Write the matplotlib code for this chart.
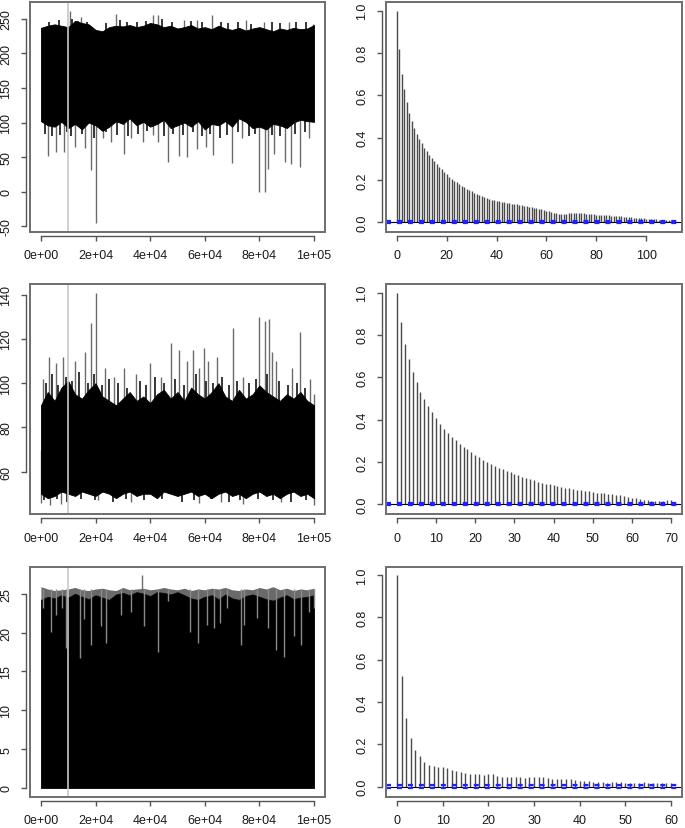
import numpy as np
import matplotlib
matplotlib.use("Agg")
import matplotlib.pyplot as plt
from matplotlib.patches import Rectangle

plt.rcParams["font.family"] = ["Liberation Sans", "DejaVu Sans"]
plt.rcParams["lines.scale_dashes"] = False

# === trace panels: core band (every 2500 iterations) + single excursions ===
n_iter = 100000
burn_in = 10000
core_step = 2500

t1_hi = [237, 240, 242, 240, 238, 247, 244, 242, 234, 232, 238, 240, 239, 241, 238, 240, 244,
         242, 238, 240, 236, 238, 241, 236, 238, 235, 240, 236, 234, 237, 233, 236, 238, 235,
         232, 236, 234, 237, 235, 236, 241]
t1_lo = [102, 96, 94, 101, 92, 98, 90, 100, 96, 88, 94, 102, 98, 106, 96, 101, 94, 98, 104,
         92, 96, 100, 94, 102, 90, 98, 96, 102, 94, 106, 101, 92, 94, 90, 98, 96, 92, 100,
         104, 102, 101]
# grey excursions beyond the band
t1_spike_it = [2700, 5400, 8500, 12400, 16000, 18500, 20300, 22700, 25800, 30400, 33100, 37300,
               41000, 43000, 46700, 50400, 53600, 57300, 60300, 63100, 70100, 73700, 79800,
               81900, 83100, 85500, 89200, 91600, 95000, 98100,
               10600, 14800, 27600, 41000, 42800, 52400, 57300, 62800, 74900, 81600, 90800, 99600]
t1_spike_val = [52, 58, 58, 65, 63, 31, -46, 77, 72, 55, 77, 72, 82, 72, 43, 52, 50, 62, 65, 53,
                41, 77, 0, 0, 33, 55, 43, 40, 36, 77,
                262, 252, 257, 256, 255, 248, 248, 255, 249, 246, 246, 243]
# dark strands at the band edges
t1_strand_it = [3000, 6500, 11500, 13500, 17000, 24000, 29000, 31500, 35000, 38500, 44500, 48000,
                55000, 59000, 66000, 68500, 72000, 77000, 84500, 87500, 93500, 97000,
                1500, 4000, 7000, 9500, 11000, 15000, 19500, 24000, 28000, 32000, 35500, 39000,
                45000, 48500, 52000, 55500, 59000, 62000, 65500, 68000, 72000, 76000, 78500,
                84500, 87500, 93000, 96500]
t1_strand_val = [246, 248, 250, 247, 246, 244, 248, 246, 245, 247, 250, 246, 247, 245, 246, 244,
                 246, 243, 245, 244, 246, 245,
                 84, 80, 82, 86, 80, 84, 78, 86, 82, 80, 84, 88, 80, 84, 82, 86, 80, 84, 78,
                 82, 86, 80, 84, 82, 80, 84, 86]

t2_hi = [90, 96, 92, 98, 101, 95, 93, 97, 100, 94, 92, 90, 93, 96, 92, 94, 91, 95, 97, 93, 96,
         92, 98, 95, 93, 96, 100, 94, 92, 97, 93, 95, 99, 96, 94, 92, 95, 93, 96, 92, 90]
t2_lo = [50, 48, 49, 51, 50, 49, 51, 50, 49, 51, 50, 48, 50, 51, 49, 50, 50, 48, 51, 50, 49,
         50, 51, 49, 50, 48, 50, 51, 49, 50, 48, 50, 51, 49, 50, 48, 50, 51, 49, 50, 48]
t2_spike_it = [850, 2900, 5400, 8100, 12400, 16000, 18500, 20300, 23400, 26800, 30400, 34900,
               39800, 43800, 47700, 50400, 53400, 55800, 57900, 59700, 61200, 64600, 70400,
               74100, 79800, 81900, 83500, 84700, 85900, 92000, 95000, 98400, 100000,
               0, 3500, 7400, 21000, 33000, 58000, 66000, 74000, 88000, 99800]
t2_spike_val = [102, 112, 109, 112, 110, 114, 127, 141, 107, 103, 107, 104, 109, 103, 118, 115,
                110, 115, 107, 116, 110, 112, 125, 103, 130, 128, 129, 114, 110, 107, 123, 102, 95,
                46, 45, 45.5, 47, 46.5, 46, 46.5, 45.5, 46.5, 44.7]
t2_strand_it = [1800, 4200, 6300, 9200, 11300, 14100, 17200, 19400, 22300, 25100, 28200, 31600,
                36200, 38400, 41700, 45200, 49100, 52200, 56700, 60300, 62900, 66400, 68700,
                71900, 76300, 78600, 82700, 87300, 90400, 93600, 96700,
                1200, 5800, 9700, 14600, 19800, 26300, 31200, 37600, 44300, 51700, 56200,
                62400, 68900, 72800, 79300, 85100, 91400, 97200]
t2_strand_val = [100, 104, 99, 103, 101, 105, 100, 104, 99, 102, 100, 98, 101, 99, 103, 100, 102,
                 99, 104, 101, 100, 103, 99, 101, 100, 102, 104, 101, 99, 100, 98,
                 47, 47.5, 46.5, 47.5, 47, 46.5, 47.5, 47, 47.5, 46.5, 47, 47.5, 46.5, 47, 47.5,
                 47, 46.5, 47]

t3_lo = 0.0
t3_hi = [24.2, 24.6, 24.4, 24.8, 24.5, 25.0, 24.6, 24.3, 24.8, 24.5, 24.2, 24.9, 25.1, 24.8,
         25.2, 25.0, 24.7, 25.2, 25.1, 24.9, 25.2, 24.8, 24.4, 24.2, 24.6, 24.8, 24.3, 24.9,
         24.4, 24.2, 24.7, 24.9, 24.6, 24.3, 24.1, 24.5, 24.8, 24.3, 24.5, 24.6, 24.8]
t3_top = [25.9, 25.6, 25.4, 25.5, 25.6, 25.8, 25.5, 25.4, 25.6, 25.7, 25.5, 25.4, 25.8, 25.5,
          25.6, 25.7, 25.5, 25.6, 25.8, 25.6, 25.5, 25.7, 25.4, 25.6, 25.5, 25.7, 25.6, 25.8,
          25.5, 25.4, 25.6, 25.5, 25.8, 25.6, 25.9, 25.5, 25.7, 25.4, 25.6, 25.5, 25.7]
# grey gaps reaching down into the band from the top
t3_gap_it = [850, 3650, 5360, 7550, 9000, 14200, 15600, 18500, 22100, 24000, 29200, 33100,
             37700, 42800, 46500, 54600, 57500, 60900, 63400, 65600, 68200, 73100, 74300,
             79200, 83100, 85900, 88900, 92600, 95300, 98100, 99900]
t3_gap_val = [23.1, 20.1, 22.3, 23.1, 18.0, 16.7, 21.8, 18.4, 20.8, 18.6, 22.3, 22.7, 20.8,
              17.5, 24.0, 20.1, 18.6, 21.0, 20.6, 21.2, 23.1, 18.4, 21.0, 21.9, 20.6, 17.8,
              16.9, 19.5, 18.4, 22.7, 23.1]
t3_spike_it = [37000]
t3_spike_val = [27.4]

# === autocorrelations ===
acf1 = [1.000, 0.818, 0.702, 0.628, 0.566, 0.518, 0.478, 0.446, 0.418, 0.395, 0.372, 0.352,
        0.334, 0.317, 0.302, 0.288, 0.274, 0.261, 0.249, 0.238, 0.226, 0.215, 0.205, 0.196,
        0.188, 0.180, 0.173, 0.166, 0.159, 0.152, 0.146, 0.140, 0.134, 0.128, 0.123, 0.118,
        0.114, 0.110, 0.106, 0.103, 0.100, 0.098, 0.096, 0.094, 0.092, 0.090, 0.088, 0.086,
        0.084, 0.082, 0.080, 0.078, 0.076, 0.074, 0.072, 0.069, 0.066, 0.063, 0.060, 0.057,
        0.054, 0.051, 0.048, 0.045, 0.042, 0.040, 0.039, 0.038, 0.039, 0.041, 0.042, 0.043,
        0.044, 0.043, 0.042, 0.041, 0.040, 0.039, 0.038, 0.037, 0.036, 0.035, 0.034, 0.034,
        0.033, 0.032, 0.031, 0.030, 0.029, 0.028, 0.027, 0.026, 0.025, 0.024, 0.023, 0.022,
        0.021, 0.020, 0.019, 0.018, 0.017, 0.016, 0.015, 0.014, 0.013, 0.012, 0.011, 0.010,
        0.009, 0.008, 0.007]
acf2 = [1.000, 0.860, 0.759, 0.685, 0.625, 0.575, 0.532, 0.496, 0.466, 0.436, 0.406, 0.381,
        0.357, 0.337, 0.318, 0.301, 0.286, 0.272, 0.259, 0.246, 0.233, 0.221, 0.211, 0.201,
        0.191, 0.182, 0.173, 0.165, 0.157, 0.150, 0.143, 0.136, 0.130, 0.124, 0.118, 0.112,
        0.107, 0.102, 0.097, 0.093, 0.089, 0.085, 0.082, 0.078, 0.075, 0.072, 0.069, 0.066,
        0.063, 0.060, 0.057, 0.055, 0.053, 0.051, 0.049, 0.047, 0.044, 0.041, 0.038, 0.034,
        0.030, 0.027, 0.024, 0.021, 0.018, 0.015, 0.013, 0.014, 0.016, 0.018, 0.020]
acf3 = [1.000, 0.521, 0.324, 0.229, 0.175, 0.144, 0.118, 0.103, 0.098, 0.095, 0.093, 0.088,
        0.080, 0.073, 0.068, 0.065, 0.060, 0.058, 0.058, 0.055, 0.060, 0.058, 0.052, 0.048,
        0.047, 0.046, 0.047, 0.044, 0.043, 0.044, 0.045, 0.046, 0.044, 0.041, 0.038, 0.037,
        0.036, 0.037, 0.036, 0.033, 0.028, 0.026, 0.025, 0.024, 0.022, 0.020, 0.019, 0.020,
        0.021, 0.020, 0.019, 0.018, 0.016, 0.018, 0.020, 0.019, 0.018, 0.017, 0.016, 0.015,
        0.015]
acf_ci = 1.96 / np.sqrt(n_iter)

trace_yticks = [[-50, 0, 50, 100, 150, 200, 250], [60, 80, 100, 120, 140], [0, 5, 10, 15, 20, 25]]
trace_xticks = [0, 20000, 40000, 60000, 80000, 100000]
acf_xticks = [[0, 20, 40, 60, 80, 100], [0, 10, 20, 30, 40, 50, 60, 70],
              [0, 10, 20, 30, 40, 50, 60]]
acf_yticks = [0.0, 0.2, 0.4, 0.6, 0.8, 1.0]

# === figure ===
W, H = 685, 829
fig = plt.figure(figsize=(W / 100, H / 100), dpi=100)
rows_top = [3, 285, 567.5]
panel_h = 230


def add_ax(left, right, top):
    return fig.add_axes([left / W, (H - top - panel_h) / H, (right - left) / W, panel_h / H])


def r_style(ax, xt, yt, xlabels, ylabels):
    for s in ["top", "right"]:
        ax.spines[s].set_visible(False)
    for s in ["left", "bottom"]:
        ax.spines[s].set_position(("outward", 3))
        ax.spines[s].set_color("#555555")
        ax.spines[s].set_linewidth(1.0)
    ax.spines["bottom"].set_bounds(xt[0], xt[-1])
    ax.spines["left"].set_bounds(yt[0], yt[-1])
    ax.set_xticks(xt)
    ax.set_xticklabels(xlabels)
    ax.set_yticks(yt)
    ax.set_yticklabels(ylabels)
    ax.tick_params(length=3.6, width=1.0, color="#555555", labelsize=9, pad=6,
                   labelcolor="#1a1a1a")
    for lab in ax.get_yticklabels():
        lab.set_rotation(90)
        lab.set_va("center")
    ax.add_patch(Rectangle((0, 0), 1, 1, transform=ax.transAxes, fill=False,
                           ec="#6e6e6e", lw=1.4, clip_on=False, zorder=5))


def pad_lim(lo, hi):
    r = hi - lo
    return lo - 0.04 * r, hi + 0.04 * r


core_x = np.arange(0, n_iter + 1, core_step)
traces = [
    dict(lo=t1_lo, hi=t1_hi, sp_it=t1_spike_it, sp_val=t1_spike_val,
         st_it=t1_strand_it, st_val=t1_strand_val, base=150),
    dict(lo=t2_lo, hi=t2_hi, sp_it=t2_spike_it, sp_val=t2_spike_val,
         st_it=t2_strand_it, st_val=t2_strand_val, base=70),
    dict(lo=t3_lo, hi=t3_hi, top=t3_top, sp_it=t3_spike_it, sp_val=t3_spike_val,
         gap_it=t3_gap_it, gap_val=t3_gap_val, base=12),
]

for i, tr in enumerate(traces):
    ax = add_ax(30, 325, rows_top[i])
    lo, hi, base = tr["lo"], tr["hi"], tr["base"]
    ax.vlines(tr["sp_it"], base, tr["sp_val"], colors="#6b6b6b", lw=1.0, zorder=1)
    if "st_it" in tr:
        ax.vlines(tr["st_it"], base, tr["st_val"], colors="black", lw=1.1, zorder=1.2)
    if "top" in tr:
        ax.fill_between(core_x, hi, tr["top"], color="#6a6a6a", lw=0, zorder=1.5)
    ax.fill_between(core_x, lo, hi, color="black", lw=0.6, ec="black", zorder=2)
    if "gap_it" in tr:
        ax.vlines(tr["gap_it"], tr["gap_val"], max(tr["top"]) - 0.3, colors="#8a8a8a",
                  lw=1.0, zorder=2.4)
    ax.axvline(burn_in, color="#c8c8c8", lw=1.2, zorder=3)
    top = tr.get("top", hi)
    lo_all = min(np.min(lo), min(tr["sp_val"]))
    hi_all = max(np.max(top), max(tr["sp_val"]))
    ax.set_ylim(*pad_lim(lo_all, hi_all))
    ax.set_xlim(*pad_lim(0, n_iter))
    r_style(ax, trace_xticks, trace_yticks[i],
            [f"{v:.0e}" for v in trace_xticks], [str(v) for v in trace_yticks[i]])

for i, acf in enumerate([acf1, acf2, acf3]):
    ax = add_ax(386, 682, rows_top[i])
    lags = np.arange(len(acf))
    ax.vlines(lags, 0, acf, colors="#4a4a4a", lw=1.0, zorder=2)
    ax.axhline(0, color="black", lw=0.8, zorder=2)
    for c in (acf_ci, -acf_ci):
        ax.axhline(c, color="#1f1fff", lw=1.6, dashes=(3.6, 4.3), zorder=3)
    ax.set_xlim(*pad_lim(0, lags[-1]))
    ax.set_ylim(*pad_lim(min(min(acf), -acf_ci), 1.0))
    r_style(ax, acf_xticks[i], acf_yticks,
            [str(v) for v in acf_xticks[i]], [f"{v:.1f}" for v in acf_yticks])

fig.savefig("out.png", dpi=100)
